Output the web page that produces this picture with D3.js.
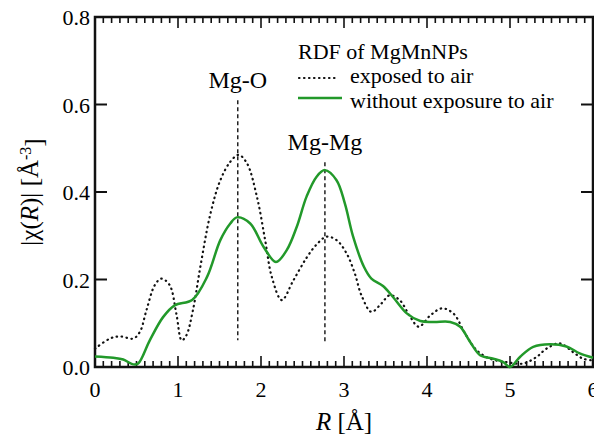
<!DOCTYPE html>
<html>
<head>
<meta charset="utf-8">
<script src="https://d3js.org/d3.v7.min.js"></script>
</head>
<body style="margin:0">
<script>

// DATA
// R in angstrom, |chi(R)| in A^-3
var exposedR   = [0.0, 0.18, 0.30, 0.46, 0.54, 0.62, 0.72, 0.80, 0.90, 0.98, 1.045, 1.10, 1.18, 1.27, 1.39, 1.51, 1.63, 1.73, 1.83, 1.95, 2.05, 2.13, 2.25, 2.39, 2.55, 2.67, 2.79, 2.91, 3.03, 3.13, 3.21, 3.33, 3.45, 3.55, 3.67, 3.80, 3.90, 4.04, 4.18, 4.32, 4.46, 4.60, 4.76, 4.96, 5.16, 5.32, 5.44, 5.60, 5.76, 5.88, 6.0];
var exposedChi = [0.042, 0.065, 0.070, 0.065, 0.080, 0.130, 0.187, 0.202, 0.187, 0.122, 0.061, 0.072, 0.130, 0.230, 0.350, 0.427, 0.469, 0.485, 0.466, 0.390, 0.290, 0.206, 0.153, 0.198, 0.250, 0.280, 0.298, 0.290, 0.260, 0.214, 0.164, 0.126, 0.145, 0.164, 0.153, 0.114, 0.092, 0.118, 0.134, 0.122, 0.076, 0.038, 0.019, 0.011, 0.008, 0.023, 0.042, 0.054, 0.034, 0.019, 0.015];

var sealedR   = [0.0, 0.22, 0.34, 0.46, 0.52, 0.66, 0.82, 0.96, 1.17, 1.35, 1.51, 1.63, 1.71, 1.87, 2.03, 2.18, 2.31, 2.43, 2.55, 2.67, 2.77, 2.91, 3.01, 3.11, 3.24, 3.33, 3.47, 3.59, 3.76, 3.92, 4.08, 4.28, 4.40, 4.52, 4.64, 4.80, 4.92, 5.0, 5.12, 5.28, 5.48, 5.68, 5.84, 6.0];
var sealedChi = [0.024, 0.021, 0.017, 0.006, 0.008, 0.061, 0.114, 0.141, 0.153, 0.206, 0.290, 0.328, 0.342, 0.328, 0.275, 0.240, 0.267, 0.320, 0.390, 0.435, 0.450, 0.427, 0.374, 0.298, 0.229, 0.202, 0.185, 0.160, 0.122, 0.105, 0.103, 0.103, 0.092, 0.057, 0.027, 0.019, 0.011, 0.000, 0.023, 0.046, 0.052, 0.047, 0.031, 0.021];

// peak markers: label, position, dashed line from / to
var peakNames = ["Mg-O", "Mg-Mg"];
var peakR     = [1.72, 2.77];
var peakTop   = [0.61, 0.468];
var peakBot   = [0.061, 0.054];

var xTicks = [0, 1, 2, 3, 4, 5, 6];
var yTicks = [0.0, 0.2, 0.4, 0.6, 0.8];

var legendTitle = "RDF of MgMnNPs";
var seriesNames = ["exposed to air", "without exposure to air"];

// set the dimensions and margins of the graph
var margin = {top: 17, right: 1, bottom: 67, left: 95},
    width = 594 - margin.left - margin.right,
    height = 434 - margin.top - margin.bottom;

var green = "#22992a";
function fam() { return "'Liberation Serif'"; }

// set the ranges (page coordinates, so texts can sit directly on the svg)
var x = d3.scaleLinear().domain([0, 6]).range([margin.left, margin.left + width]);
var y = d3.scaleLinear().domain([0, 0.8]).range([margin.top + height, margin.top]);

var svg = d3.select("body").append("svg")
    .attr("width", 594)
    .attr("height", 434);

// minor x ticks every 0.1, major at integers, inward on top and bottom
var minorX = d3.range(0, 60.5, 1).map(function(d) { return d / 10; });
svg.selectAll(".xtick")
    .data(minorX)
    .enter().append("line")
    .attr("x1", function(d) { return x(d); })
    .attr("x2", function(d) { return x(d); })
    .attr("y1", y(0))
    .attr("y2", function(d, i) { return y(0) - (i % 10 === 0 ? 11 : 6); })
    .style("stroke", "#111").style("stroke-width", 1.6);
svg.selectAll(".xtick2")
    .data(minorX)
    .enter().append("line")
    .attr("x1", function(d) { return x(d); })
    .attr("x2", function(d) { return x(d); })
    .attr("y1", y(0.8))
    .attr("y2", function(d, i) { return y(0.8) + (i % 10 === 0 ? 11 : 6); })
    .style("stroke", "#111").style("stroke-width", 1.6);

// y ticks on left and right
svg.selectAll(".ytick")
    .data(yTicks)
    .enter().append("line")
    .attr("x1", x(0)).attr("x2", x(0) + 12)
    .attr("y1", function(d) { return y(d); })
    .attr("y2", function(d) { return y(d); })
    .style("stroke", "#111").style("stroke-width", 2);
svg.selectAll(".ytick2")
    .data(yTicks)
    .enter().append("line")
    .attr("x1", x(6)).attr("x2", x(6) - 12)
    .attr("y1", function(d) { return y(d); })
    .attr("y2", function(d) { return y(d); })
    .style("stroke", "#111").style("stroke-width", 2);

// frame
svg.append("rect")
    .attr("x", x(0)).attr("y", y(0.8))
    .attr("width", width).attr("height", height)
    .style("fill", "none").style("stroke", "#111").style("stroke-width", 2.5);

// peak marker lines
svg.selectAll(".peak")
    .data(peakR)
    .enter().append("line")
    .attr("x1", function(d) { return x(d); })
    .attr("x2", function(d) { return x(d); })
    .attr("y1", function(d, i) { return y(peakTop[i]); })
    .attr("y2", function(d, i) { return y(peakBot[i]); })
    .style("stroke", "#222").style("stroke-width", 1.5)
    .style("stroke-dasharray", "4,3");

// curves
var line = d3.line()
    .x(function(d) { return x(d[0]); })
    .y(function(d) { return y(d[1]); })
    .curve(d3.curveCatmullRom.alpha(0.5));

var exposed = exposedR.map(function(r, i) { return [r, exposedChi[i]]; });
var sealed = sealedR.map(function(r, i) { return [r, sealedChi[i]]; });

svg.append("path")
    .datum(exposed)
    .attr("d", line)
    .style("fill", "none").style("stroke", "#111")
    .style("stroke-width", 2.2)
    .style("stroke-linecap", "round")
    .style("stroke-dasharray", "0.5,4.5");

svg.append("path")
    .datum(sealed)
    .attr("d", line)
    .style("fill", "none").style("stroke", green)
    .style("stroke-width", 2.5);

// legend samples
var lx = x(0) + 203;
svg.append("line").attr("x1", lx + 1).attr("x2", lx + 41).attr("y1", 78).attr("y2", 78)
    .style("stroke", "#111").style("stroke-width", 2.2)
    .style("stroke-linecap", "round").style("stroke-dasharray", "0.5,4.5");
svg.append("line").attr("x1", lx).attr("x2", lx + 44).attr("y1", 98).attr("y2", 98)
    .style("stroke", green).style("stroke-width", 2.5);

// ALL TEXTS, straight on the svg
svg.selectAll(".xlab")
    .data(xTicks)
    .enter().append("text")
    .attr("x", function(d) { return x(d); })
    .attr("y", y(0) + 30)
    .attr("text-anchor", "middle")
    .style("font-family", fam)
    .style("font-size", "22px")
    .text(function(d) { return d; });
svg.selectAll(".ylab")
    .data(yTicks)
    .enter().append("text")
    .attr("x", x(0) - 5)
    .attr("y", function(d) { return y(d) + 8; })
    .attr("text-anchor", "end")
    .style("font-family", fam)
    .style("font-size", "22px")
    .text(function(d) { return d.toFixed(1); });

svg.selectAll(".peaklab")
    .data(peakR)
    .enter().append("text")
    .attr("x", function(d) { return x(d); })
    .attr("y", function(d, i) { return y(peakTop[i]) - 12; })
    .attr("text-anchor", "middle")
    .style("font-family", fam)
    .style("font-size", "24px")
    .text(function(d, i) { return peakNames[i]; });

svg.append("text").attr("x", lx).attr("y", 59)
    .style("font-family", fam)
    .style("font-size", "22px").text(legendTitle);
svg.selectAll(".lgtext")
    .data(seriesNames)
    .enter().append("text")
    .attr("x", lx + 52)
    .attr("y", function(d, i) { return 83 + i * 25; })
    .style("font-family", fam)
    .style("font-size", "22px")
    .text(function(d) { return d; });

// axis titles
var xt = svg.append("text")
    .attr("x", x(3))
    .attr("y", y(0) + 63)
    .attr("text-anchor", "middle")
    .style("font-family", fam)
    .style("font-size", "25px");
xt.append("tspan").style("font-style", "italic").text("R");
xt.append("tspan").text(" [Å]");

var yt = svg.append("text")
    .attr("transform", "translate(38," + (margin.top + height / 2) + ") rotate(-90)")
    .attr("text-anchor", "middle")
    .style("font-family", fam)
    .style("font-size", "25px");
yt.append("tspan").text("|χ(");
yt.append("tspan").style("font-style", "italic").text("R");
yt.append("tspan").text(")| [Å");
yt.append("tspan").attr("dy", "-0.45em").style("font-size", "16px").text("-3");
yt.append("tspan").attr("dy", "0.45em").text("]");

</script>
</body>
</html>
